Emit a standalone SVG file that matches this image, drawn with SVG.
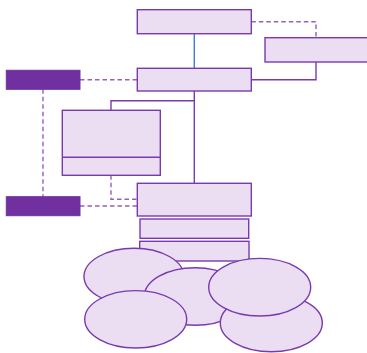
<svg xmlns="http://www.w3.org/2000/svg" width="367" height="353" viewBox="0 0 367 353">
<style>
.n{fill:#EBDEF3;stroke:#7A3AAE;stroke-width:1.4}
.d{fill:#7030A0;stroke:#7030A0;stroke-width:1}
.c{fill:none;stroke:#7A3AAE;stroke-width:1.4}
.cd{fill:none;stroke:#9560C0;stroke-width:1.4;stroke-dasharray:4.5,3}
.cb{fill:none;stroke:#3F7FCC;stroke-width:1.4}
</style>
<rect width="367" height="353" fill="#fff"/>
<g id="connectors">
<line class="cb" x1="194.3" y1="33.7" x2="194.3" y2="68.3"/>
<path class="cd" d="M251.3,21.7 H316 V37.7"/>
<path class="c" d="M316,62 V79.7 H251.3"/>
<path class="cd" d="M80,79.7 H137.3"/>
<path class="cd" d="M43,89.3 V196.7"/>
<path class="c" d="M194.3,91 V183.3"/>
<path class="c" d="M194.3,100.7 H111 V110.3"/>
<path class="cd" d="M111,175.3 V199.3 H137.3"/>
<path class="cd" d="M80,206 H137.3"/>
</g>
<g id="top"><rect class="n" x="137.3" y="9.7" width="114" height="24"/></g>
<g id="right"><rect class="n" x="265" y="37.7" width="110" height="24.3"/></g>
<g id="middle"><rect class="n" x="137.3" y="68.3" width="114" height="22.7"/></g>
<g id="dark1"><rect class="d" x="6.3" y="70.3" width="73.7" height="19"/></g>
<g id="mleft"><rect class="n" x="62.3" y="110.3" width="98" height="65"/><line class="c" x1="62.3" y1="157.3" x2="160.3" y2="157.3"/></g>
<g id="lower"><rect class="n" x="137.3" y="183.3" width="114" height="32.7"/></g>
<g id="dark2"><rect class="d" x="6.3" y="196.7" width="73.7" height="19"/></g>
<g id="small1"><rect class="n" x="140" y="219" width="108.7" height="19.3"/></g>
<g id="small2"><rect class="n" x="139.7" y="241.3" width="109.3" height="19.7"/></g>
<g id="e1"><ellipse class="n" cx="134" cy="276.5" rx="50" ry="28.3"/></g>
<g id="e2"><ellipse class="n" cx="195" cy="296.5" rx="50.7" ry="28.8"/></g>
<g id="e3"><ellipse class="n" cx="271.3" cy="323" rx="51" ry="28.7"/></g>
<g id="e4"><ellipse class="n" cx="259.7" cy="287.2" rx="51" ry="28.8"/></g>
<g id="e5"><ellipse class="n" cx="135.7" cy="319.3" rx="51" ry="28.7"/></g>
</svg>
